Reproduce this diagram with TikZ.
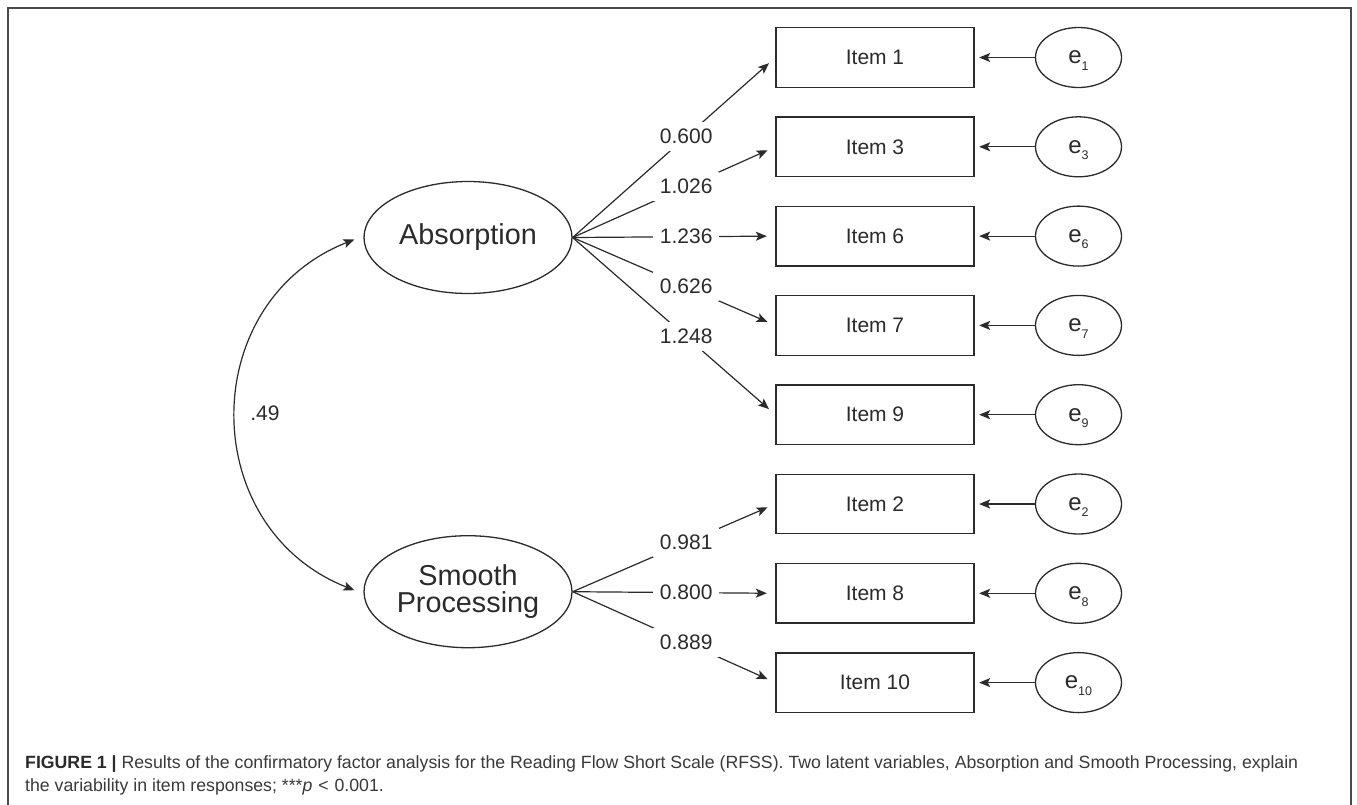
\documentclass[tikz,border=0pt]{standalone}
\usepackage{fontspec}
\setmainfont{Liberation Sans}
\usetikzlibrary{shapes.geometric,arrows.meta}
\definecolor{ink}{HTML}{2B2B2B}
\definecolor{framecol}{HTML}{4A4A4A}
\definecolor{captxt}{HTML}{3A3A3A}
\newcommand{\esub}[1]{{\fontsize{24}{24}\selectfont e}\raisebox{-6.5pt}[0pt][0pt]{\fontsize{12.5}{12.5}\selectfont #1}}
\begin{document}
\begin{tikzpicture}[x=1pt,y=-1pt,
  box/.style={draw=ink,line width=1.3pt,rectangle,minimum width=198pt,minimum height=59.5pt,inner sep=0pt,font=\fontsize{21}{21}\selectfont,text=ink},
  err/.style={draw=ink,line width=1.3pt,ellipse,minimum width=86pt,minimum height=60pt,inner sep=0pt,text=ink},
  latent/.style={draw=ink,line width=1.3pt,ellipse,minimum width=208pt,minimum height=112pt,inner sep=0pt,font=\fontsize{28.8}{27}\selectfont,text=ink,align=center},
  load/.style={draw=ink,line width=1.2pt,-{Stealth[length=11pt,width=9pt,inset=2.5pt]},shorten >=8.5pt},
  resid/.style={draw=ink,line width=1.2pt,-{Stealth[length=11pt,width=9pt,inset=2.5pt]},shorten >=4.5pt},
  corr/.style={draw=ink,line width=1.2pt,{Stealth[length=11pt,width=9pt,inset=2.5pt]}-{Stealth[length=11pt,width=9pt,inset=2.5pt]}},
  wt/.style={fill=white,inner xsep=7pt,inner ysep=7pt,font=\fontsize{21}{21}\selectfont,text=ink,pos=0.56},
  capline/.style={anchor=base west,inner sep=0pt,font=\fontsize{17.7}{17.7}\selectfont,text=captxt},
]
\useasboundingbox (0,0) rectangle (1357,804);
\fill[white] (0,0) rectangle (1357,804);
\draw[framecol,line width=2pt] (8,812) -- (8,8) -- (1351,8) -- (1351,812);

% latent variables
\node[latent] (abs) at (468,237.5) {Absorption};
\node[latent] (sp) at (468,591.7) {Smooth\\Processing};

% items
\node[box] (i1) at (875,57.5) {Item 1};
\node[box] (i3) at (875,146.8) {Item 3};
\node[box] (i6) at (875,236.1) {Item 6};
\node[box] (i7) at (875,325.4) {Item 7};
\node[box] (i9) at (875,414.7) {Item 9};
\node[box] (i2) at (875,504.0) {Item 2};
\node[box] (i8) at (875,593.3) {Item 8};
\node[box] (i10) at (875,682.6) {Item 10};

% errors
\node[err] (e1) at (1078.5,57.5) {\esub{1}};
\node[err] (e3) at (1078.5,146.8) {\esub{3}};
\node[err] (e6) at (1078.5,236.1) {\esub{6}};
\node[err] (e7) at (1078.5,325.4) {\esub{7}};
\node[err] (e9) at (1078.5,414.7) {\esub{9}};
\node[err] (e2) at (1078.5,504.0) {\esub{2}};
\node[err] (e8) at (1078.5,593.3) {\esub{8}};
\node[err] (e10) at (1078.5,682.6) {\esub{10}};

% loadings
\draw[load] (abs.east) -- node[wt] {0.600} (i1.west);
\draw[load] (abs.east) -- node[wt] {1.026} (i3.west);
\draw[load] (abs.east) -- node[wt] {1.236} (i6.west);
\draw[load] (abs.east) -- node[wt] {0.626} (i7.west);
\draw[load] (abs.east) -- node[wt] {1.248} (i9.west);
\draw[load] (sp.east) -- node[wt] {0.981} (i2.west);
\draw[load] (sp.east) -- node[wt] {0.800} (i8.west);
\draw[load] (sp.east) -- node[wt] {0.889} (i10.west);

% residuals
\foreach \k in {1,3,6,7,9,2,8,10}{
  \draw[resid] (e\k.west) -- (i\k.east);
}

% correlation
\draw[corr] ([xshift=-9pt,yshift=-2pt]abs.west) .. controls +(158.5:170) and +(201.5:170) .. ([xshift=-9pt,yshift=1.5pt]sp.west);
\node[inner sep=0pt,font=\fontsize{21}{21}\selectfont,text=ink] (r) at (265,413) {.49};

% caption
\node[capline] (c1) at (25,768) {{\bfseries\color{ink}FIGURE 1 |} Results of the confirmatory factor analysis for the Reading Flow Short Scale (RFSS). Two latent variables, Absorption and Smooth Processing, explain};
\node[capline] (c2) at (25,791) {the variability in item responses; ***\textit{p}\,\,<\,\,0.001.};
\end{tikzpicture}
\end{document}
